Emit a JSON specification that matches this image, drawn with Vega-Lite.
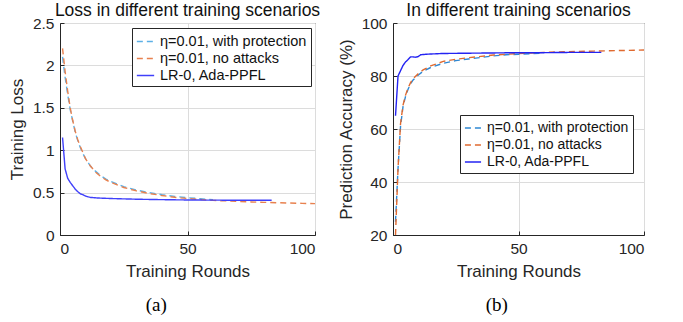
{
  "$schema": "https://vega.github.io/schema/vega-lite/v6.json",
  "padding": {"left": 7, "top": 1, "right": 5, "bottom": 5},
  "background": "white",
  "config": {
    "font": "Liberation Sans",
    "view": {"stroke": "#262626", "strokeWidth": 1},
    "axis": {
      "labelFontSize": 15.5, "titleFontSize": 17, "titleFontWeight": "normal",
      "labelColor": "#262626", "titleColor": "#262626",
      "gridColor": "#dcdcdc", "domainColor": "#262626", "tickColor": "#262626",
      "tickSize": -4, "labelPadding": 10
    },
    "title": {"fontSize": 17.5, "fontWeight": "normal", "color": "#111111", "offset": -3},
    "concat": {"spacing": 15},
    "legend": {
      "labelFontSize": 14.5, "labelColor": "#111111", "fillColor": "white", "strokeColor": "#262626",
      "padding": 4, "symbolType": "stroke", "symbolSize": 300, "symbolStrokeWidth": 1.6,
      "rowPadding": 1, "labelOffset": 5
    }
  },
  "datasets": {
    "loss": [
      {"round": 1, "value": 2.1, "series": "η=0.01, with protection"},
      {"round": 2, "value": 1.86, "series": "η=0.01, with protection"},
      {"round": 3, "value": 1.66, "series": "η=0.01, with protection"},
      {"round": 4, "value": 1.48, "series": "η=0.01, with protection"},
      {"round": 5, "value": 1.34, "series": "η=0.01, with protection"},
      {"round": 6, "value": 1.21, "series": "η=0.01, with protection"},
      {"round": 7, "value": 1.11, "series": "η=0.01, with protection"},
      {"round": 8, "value": 1.03, "series": "η=0.01, with protection"},
      {"round": 9, "value": 0.96, "series": "η=0.01, with protection"},
      {"round": 10, "value": 0.9, "series": "η=0.01, with protection"},
      {"round": 12, "value": 0.81, "series": "η=0.01, with protection"},
      {"round": 14, "value": 0.75, "series": "η=0.01, with protection"},
      {"round": 16, "value": 0.7, "series": "η=0.01, with protection"},
      {"round": 18, "value": 0.66, "series": "η=0.01, with protection"},
      {"round": 20, "value": 0.63, "series": "η=0.01, with protection"},
      {"round": 25, "value": 0.57, "series": "η=0.01, with protection"},
      {"round": 30, "value": 0.53, "series": "η=0.01, with protection"},
      {"round": 35, "value": 0.5, "series": "η=0.01, with protection"},
      {"round": 40, "value": 0.475, "series": "η=0.01, with protection"},
      {"round": 45, "value": 0.455, "series": "η=0.01, with protection"},
      {"round": 50, "value": 0.44, "series": "η=0.01, with protection"},
      {"round": 55, "value": 0.428, "series": "η=0.01, with protection"},
      {"round": 60, "value": 0.415, "series": "η=0.01, with protection"},
      {"round": 1, "value": 2.2, "series": "η=0.01, no attacks"},
      {"round": 2, "value": 1.93, "series": "η=0.01, no attacks"},
      {"round": 3, "value": 1.7, "series": "η=0.01, no attacks"},
      {"round": 4, "value": 1.5, "series": "η=0.01, no attacks"},
      {"round": 5, "value": 1.35, "series": "η=0.01, no attacks"},
      {"round": 6, "value": 1.22, "series": "η=0.01, no attacks"},
      {"round": 7, "value": 1.12, "series": "η=0.01, no attacks"},
      {"round": 8, "value": 1.04, "series": "η=0.01, no attacks"},
      {"round": 9, "value": 0.97, "series": "η=0.01, no attacks"},
      {"round": 10, "value": 0.9, "series": "η=0.01, no attacks"},
      {"round": 12, "value": 0.81, "series": "η=0.01, no attacks"},
      {"round": 14, "value": 0.74, "series": "η=0.01, no attacks"},
      {"round": 16, "value": 0.69, "series": "η=0.01, no attacks"},
      {"round": 18, "value": 0.65, "series": "η=0.01, no attacks"},
      {"round": 20, "value": 0.62, "series": "η=0.01, no attacks"},
      {"round": 25, "value": 0.56, "series": "η=0.01, no attacks"},
      {"round": 30, "value": 0.52, "series": "η=0.01, no attacks"},
      {"round": 35, "value": 0.49, "series": "η=0.01, no attacks"},
      {"round": 40, "value": 0.465, "series": "η=0.01, no attacks"},
      {"round": 45, "value": 0.445, "series": "η=0.01, no attacks"},
      {"round": 50, "value": 0.43, "series": "η=0.01, no attacks"},
      {"round": 55, "value": 0.418, "series": "η=0.01, no attacks"},
      {"round": 60, "value": 0.408, "series": "η=0.01, no attacks"},
      {"round": 65, "value": 0.402, "series": "η=0.01, no attacks"},
      {"round": 70, "value": 0.396, "series": "η=0.01, no attacks"},
      {"round": 75, "value": 0.39, "series": "η=0.01, no attacks"},
      {"round": 80, "value": 0.385, "series": "η=0.01, no attacks"},
      {"round": 85, "value": 0.381, "series": "η=0.01, no attacks"},
      {"round": 90, "value": 0.377, "series": "η=0.01, no attacks"},
      {"round": 95, "value": 0.373, "series": "η=0.01, no attacks"},
      {"round": 100, "value": 0.37, "series": "η=0.01, no attacks"},
      {"round": 1, "value": 1.15, "series": "LR-0, Ada-PPFL"},
      {"round": 2, "value": 0.78, "series": "LR-0, Ada-PPFL"},
      {"round": 3, "value": 0.67, "series": "LR-0, Ada-PPFL"},
      {"round": 4, "value": 0.62, "series": "LR-0, Ada-PPFL"},
      {"round": 5, "value": 0.58, "series": "LR-0, Ada-PPFL"},
      {"round": 6, "value": 0.54, "series": "LR-0, Ada-PPFL"},
      {"round": 7, "value": 0.51, "series": "LR-0, Ada-PPFL"},
      {"round": 8, "value": 0.485, "series": "LR-0, Ada-PPFL"},
      {"round": 9, "value": 0.475, "series": "LR-0, Ada-PPFL"},
      {"round": 10, "value": 0.46, "series": "LR-0, Ada-PPFL"},
      {"round": 11, "value": 0.45, "series": "LR-0, Ada-PPFL"},
      {"round": 12, "value": 0.443, "series": "LR-0, Ada-PPFL"},
      {"round": 15, "value": 0.436, "series": "LR-0, Ada-PPFL"},
      {"round": 20, "value": 0.43, "series": "LR-0, Ada-PPFL"},
      {"round": 30, "value": 0.422, "series": "LR-0, Ada-PPFL"},
      {"round": 40, "value": 0.417, "series": "LR-0, Ada-PPFL"},
      {"round": 50, "value": 0.413, "series": "LR-0, Ada-PPFL"},
      {"round": 60, "value": 0.411, "series": "LR-0, Ada-PPFL"},
      {"round": 70, "value": 0.41, "series": "LR-0, Ada-PPFL"},
      {"round": 83, "value": 0.41, "series": "LR-0, Ada-PPFL"}
    ],
    "acc": [
      {"round": 1, "value": 25, "series": "η=0.01, with protection"},
      {"round": 2, "value": 45, "series": "η=0.01, with protection"},
      {"round": 3, "value": 61, "series": "η=0.01, with protection"},
      {"round": 4, "value": 68.5, "series": "η=0.01, with protection"},
      {"round": 5, "value": 72.3, "series": "η=0.01, with protection"},
      {"round": 6, "value": 75, "series": "η=0.01, with protection"},
      {"round": 7, "value": 77, "series": "η=0.01, with protection"},
      {"round": 8, "value": 78.5, "series": "η=0.01, with protection"},
      {"round": 10, "value": 80.3, "series": "η=0.01, with protection"},
      {"round": 12, "value": 81.8, "series": "η=0.01, with protection"},
      {"round": 15, "value": 83.2, "series": "η=0.01, with protection"},
      {"round": 20, "value": 84.8, "series": "η=0.01, with protection"},
      {"round": 25, "value": 85.8, "series": "η=0.01, with protection"},
      {"round": 30, "value": 86.4, "series": "η=0.01, with protection"},
      {"round": 35, "value": 87, "series": "η=0.01, with protection"},
      {"round": 40, "value": 87.6, "series": "η=0.01, with protection"},
      {"round": 45, "value": 88, "series": "η=0.01, with protection"},
      {"round": 50, "value": 88.2, "series": "η=0.01, with protection"},
      {"round": 55, "value": 88.4, "series": "η=0.01, with protection"},
      {"round": 60, "value": 88.7, "series": "η=0.01, with protection"},
      {"round": 1, "value": 20, "series": "η=0.01, no attacks"},
      {"round": 2, "value": 45, "series": "η=0.01, no attacks"},
      {"round": 3, "value": 62, "series": "η=0.01, no attacks"},
      {"round": 4, "value": 69, "series": "η=0.01, no attacks"},
      {"round": 5, "value": 72.8, "series": "η=0.01, no attacks"},
      {"round": 6, "value": 75.5, "series": "η=0.01, no attacks"},
      {"round": 7, "value": 77.5, "series": "η=0.01, no attacks"},
      {"round": 8, "value": 79, "series": "η=0.01, no attacks"},
      {"round": 10, "value": 80.8, "series": "η=0.01, no attacks"},
      {"round": 12, "value": 82.3, "series": "η=0.01, no attacks"},
      {"round": 15, "value": 83.8, "series": "η=0.01, no attacks"},
      {"round": 20, "value": 85.5, "series": "η=0.01, no attacks"},
      {"round": 25, "value": 86.3, "series": "η=0.01, no attacks"},
      {"round": 30, "value": 86.9, "series": "η=0.01, no attacks"},
      {"round": 35, "value": 87.4, "series": "η=0.01, no attacks"},
      {"round": 40, "value": 87.9, "series": "η=0.01, no attacks"},
      {"round": 45, "value": 88.2, "series": "η=0.01, no attacks"},
      {"round": 50, "value": 88.5, "series": "η=0.01, no attacks"},
      {"round": 55, "value": 88.7, "series": "η=0.01, no attacks"},
      {"round": 60, "value": 88.9, "series": "η=0.01, no attacks"},
      {"round": 70, "value": 89.2, "series": "η=0.01, no attacks"},
      {"round": 80, "value": 89.4, "series": "η=0.01, no attacks"},
      {"round": 90, "value": 89.6, "series": "η=0.01, no attacks"},
      {"round": 100, "value": 89.8, "series": "η=0.01, no attacks"},
      {"round": 1, "value": 65, "series": "LR-0, Ada-PPFL"},
      {"round": 2, "value": 80, "series": "LR-0, Ada-PPFL"},
      {"round": 3, "value": 82, "series": "LR-0, Ada-PPFL"},
      {"round": 4, "value": 84, "series": "LR-0, Ada-PPFL"},
      {"round": 5, "value": 85.3, "series": "LR-0, Ada-PPFL"},
      {"round": 6, "value": 86.2, "series": "LR-0, Ada-PPFL"},
      {"round": 7, "value": 87.2, "series": "LR-0, Ada-PPFL"},
      {"round": 8, "value": 87.2, "series": "LR-0, Ada-PPFL"},
      {"round": 9, "value": 87.1, "series": "LR-0, Ada-PPFL"},
      {"round": 10, "value": 87.3, "series": "LR-0, Ada-PPFL"},
      {"round": 11, "value": 88, "series": "LR-0, Ada-PPFL"},
      {"round": 13, "value": 88.2, "series": "LR-0, Ada-PPFL"},
      {"round": 15, "value": 88.3, "series": "LR-0, Ada-PPFL"},
      {"round": 20, "value": 88.5, "series": "LR-0, Ada-PPFL"},
      {"round": 30, "value": 88.6, "series": "LR-0, Ada-PPFL"},
      {"round": 40, "value": 88.7, "series": "LR-0, Ada-PPFL"},
      {"round": 50, "value": 88.8, "series": "LR-0, Ada-PPFL"},
      {"round": 60, "value": 88.8, "series": "LR-0, Ada-PPFL"},
      {"round": 70, "value": 88.9, "series": "LR-0, Ada-PPFL"},
      {"round": 83, "value": 88.9, "series": "LR-0, Ada-PPFL"}
    ]
  },
  "resolve": {"scale": {"color": "independent", "strokeDash": "independent"}, "legend": {"color": "independent", "strokeDash": "independent"}},
  "hconcat": [
    {
      "title": {"text": "(a)", "orient": "bottom", "anchor": "middle", "dx": -8, "font": "Liberation Serif", "fontSize": 19, "color": "#000000", "offset": 16},
      "vconcat": [
        {
          "title": "Loss in different training scenarios",
          "width": 255, "height": 212,
          "data": {"name": "loss"},
          "mark": {"type": "line", "strokeWidth": 1.4, "clip": true},
          "encoding": {
            "x": {"field": "round", "type": "quantitative", "title": "Training Rounds",
                  "scale": {"domain": [0, 100], "nice": false},
                  "axis": {"values": [0, 50, 100], "titlePadding": 7}},
            "y": {"field": "value", "type": "quantitative", "title": "Training Loss",
                  "scale": {"domain": [0, 2.5], "nice": false},
                  "axis": {"values": [0, 0.5, 1, 1.5, 2, 2.5], "format": "~g", "titlePadding": 6}},
            "color": {"field": "series", "type": "nominal",
                      "scale": {"domain": ["η=0.01, with protection", "η=0.01, no attacks", "LR-0, Ada-PPFL"], "range": ["#5cb0e6", "#e8814f", "#4040fa"]},
                      "legend": {"title": null, "orient": "none", "legendX": 72, "legendY": 5}},
            "strokeDash": {"field": "series", "type": "nominal",
                      "scale": {"domain": ["η=0.01, with protection", "η=0.01, no attacks", "LR-0, Ada-PPFL"], "range": [[6, 4], [6, 4], [1, 0]]},
                      "legend": {"title": null, "orient": "none", "legendX": 72, "legendY": 5}},
            "order": {"field": "round", "type": "quantitative"}
          }
        }
      ]
    },
    {
      "title": {"text": "(b)", "orient": "bottom", "anchor": "middle", "dx": 6, "font": "Liberation Serif", "fontSize": 19, "color": "#000000", "offset": 16},
      "vconcat": [
        {
          "title": "In different training scenarios",
          "width": 251, "height": 212,
          "data": {"name": "acc"},
          "mark": {"type": "line", "strokeWidth": 1.4, "clip": true},
          "encoding": {
            "x": {"field": "round", "type": "quantitative", "title": "Training Rounds",
                  "scale": {"domain": [0, 100], "nice": false},
                  "axis": {"values": [0, 50, 100], "titlePadding": 7}},
            "y": {"field": "value", "type": "quantitative", "title": "Prediction Accuracy (%)",
                  "scale": {"domain": [20, 100], "nice": false},
                  "axis": {"values": [20, 40, 60, 80, 100], "titlePadding": 6}},
            "color": {"field": "series", "type": "nominal",
                      "scale": {"domain": ["η=0.01, with protection", "η=0.01, no attacks", "LR-0, Ada-PPFL"], "range": ["#2f88d2", "#e06a30", "#2424f2"]},
                      "legend": {"title": null, "orient": "none", "legendX": 67, "legendY": 92, "labelFontSize": 14, "symbolSize": 260}},
            "strokeDash": {"field": "series", "type": "nominal",
                      "scale": {"domain": ["η=0.01, with protection", "η=0.01, no attacks", "LR-0, Ada-PPFL"], "range": [[6, 4], [6, 4], [1, 0]]},
                      "legend": {"title": null, "orient": "none", "legendX": 67, "legendY": 92, "labelFontSize": 14, "symbolSize": 260}},
            "order": {"field": "round", "type": "quantitative"}
          }
        }
      ]
    }
  ]
}
